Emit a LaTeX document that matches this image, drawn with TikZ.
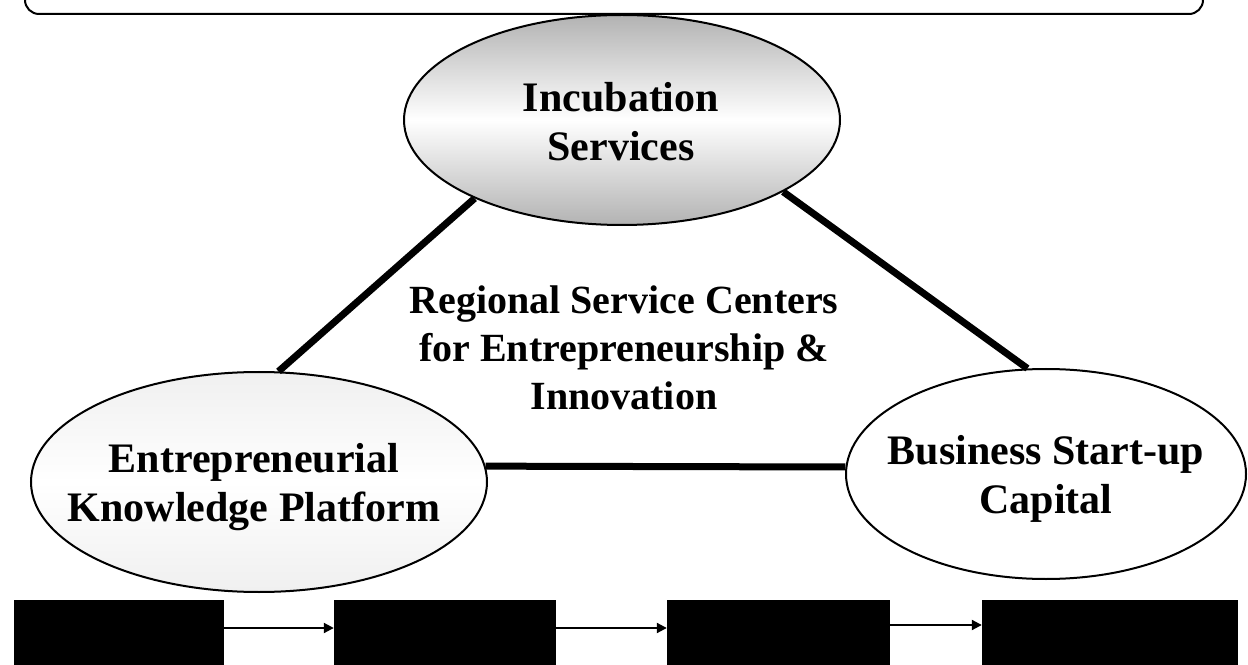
\documentclass[tikz,border=0pt]{standalone}
\usepackage{fontspec}
\setmainfont{Liberation Serif}
\usetikzlibrary{arrows.meta}
\usetikzlibrary{shapes}

\begin{document}
\begin{tikzpicture}[x = 100pt, y = -100pt]
	\tikzstyle{hubStyle} = [shape = ellipse, draw, line width = 2pt, inner sep = 0pt]
	\tikzstyle{textStyle} = [align = center, inner sep = 0pt, font = \fontsize{40}{48}\selectfont\bfseries]
	\tikzstyle{hubTextStyle} = [align = center, inner sep = 0pt, font = \fontsize{42}{49}\selectfont\bfseries]
	\tikzstyle{linkStyle} = [line width = 7pt]
	\tikzstyle{boxStyle} = [shape = rectangle, fill = black, inner sep = 0pt, minimum height = 100pt]
	\tikzstyle{flowStyle} = [line width = 2pt, -{Triangle[length = 10pt, width = 10pt]}]
	\useasboundingbox (0, 0) rectangle (12.48, 6.65);
	\node[draw, line width = 2pt, rounded corners = 14pt, minimum width = 1178pt, minimum height = 108pt] (frame) at (6.14, -0.40) {};
	\node[hubStyle, minimum width = 436pt, minimum height = 210pt, shade, top color = gray!60, bottom color = gray!60, middle color = white] (inc) at (6.22, 1.20) {};
	\node[hubStyle, minimum width = 456pt, minimum height = 220pt, shade, top color = gray!12, bottom color = gray!12, middle color = white] (ekp) at (2.59, 4.82) {};
	\node[hubStyle, minimum width = 400pt, minimum height = 210pt] (bsc) at (10.46, 4.74) {};
	\node[hubTextStyle] (inc-t) at (6.21, 1.22) {Incubation\\Services};
	\node[hubTextStyle] (ekp-t) at (2.54, 4.87) {Entrepreneurial\\Knowledge Platform};
	\node[hubTextStyle] (bsc-t) at (10.46, 4.79) {Business Start-up\\Capital};
	\node[textStyle] (rsc) at (6.24, 3.475) {Regional Service Centers\\for Entrepreneurship \&\\Innovation};
	\draw[linkStyle] (inc.208) -- (ekp.80);
	\draw[linkStyle] (inc.336) -- (bsc.100);
	\draw[linkStyle] (ekp.4) -- (bsc.178);
	\node[boxStyle, minimum width = 210pt] (b1) at (1.19, 6.50) {};
	\node[boxStyle, minimum width = 222pt] (b2) at (4.45, 6.50) {};
	\node[boxStyle, minimum width = 223pt] (b3) at (7.785, 6.50) {};
	\node[boxStyle, minimum width = 256pt] (b4) at (11.10, 6.50) {};
	\draw[flowStyle] ([yshift = 22pt]b1.east) -- ([yshift = 22pt]b2.west);
	\draw[flowStyle] ([yshift = 22pt]b2.east) -- ([yshift = 22pt]b3.west);
	\draw[flowStyle] ([yshift = 25pt]b3.east) -- ([yshift = 25pt]b4.west);
\end{tikzpicture}
\end{document}
